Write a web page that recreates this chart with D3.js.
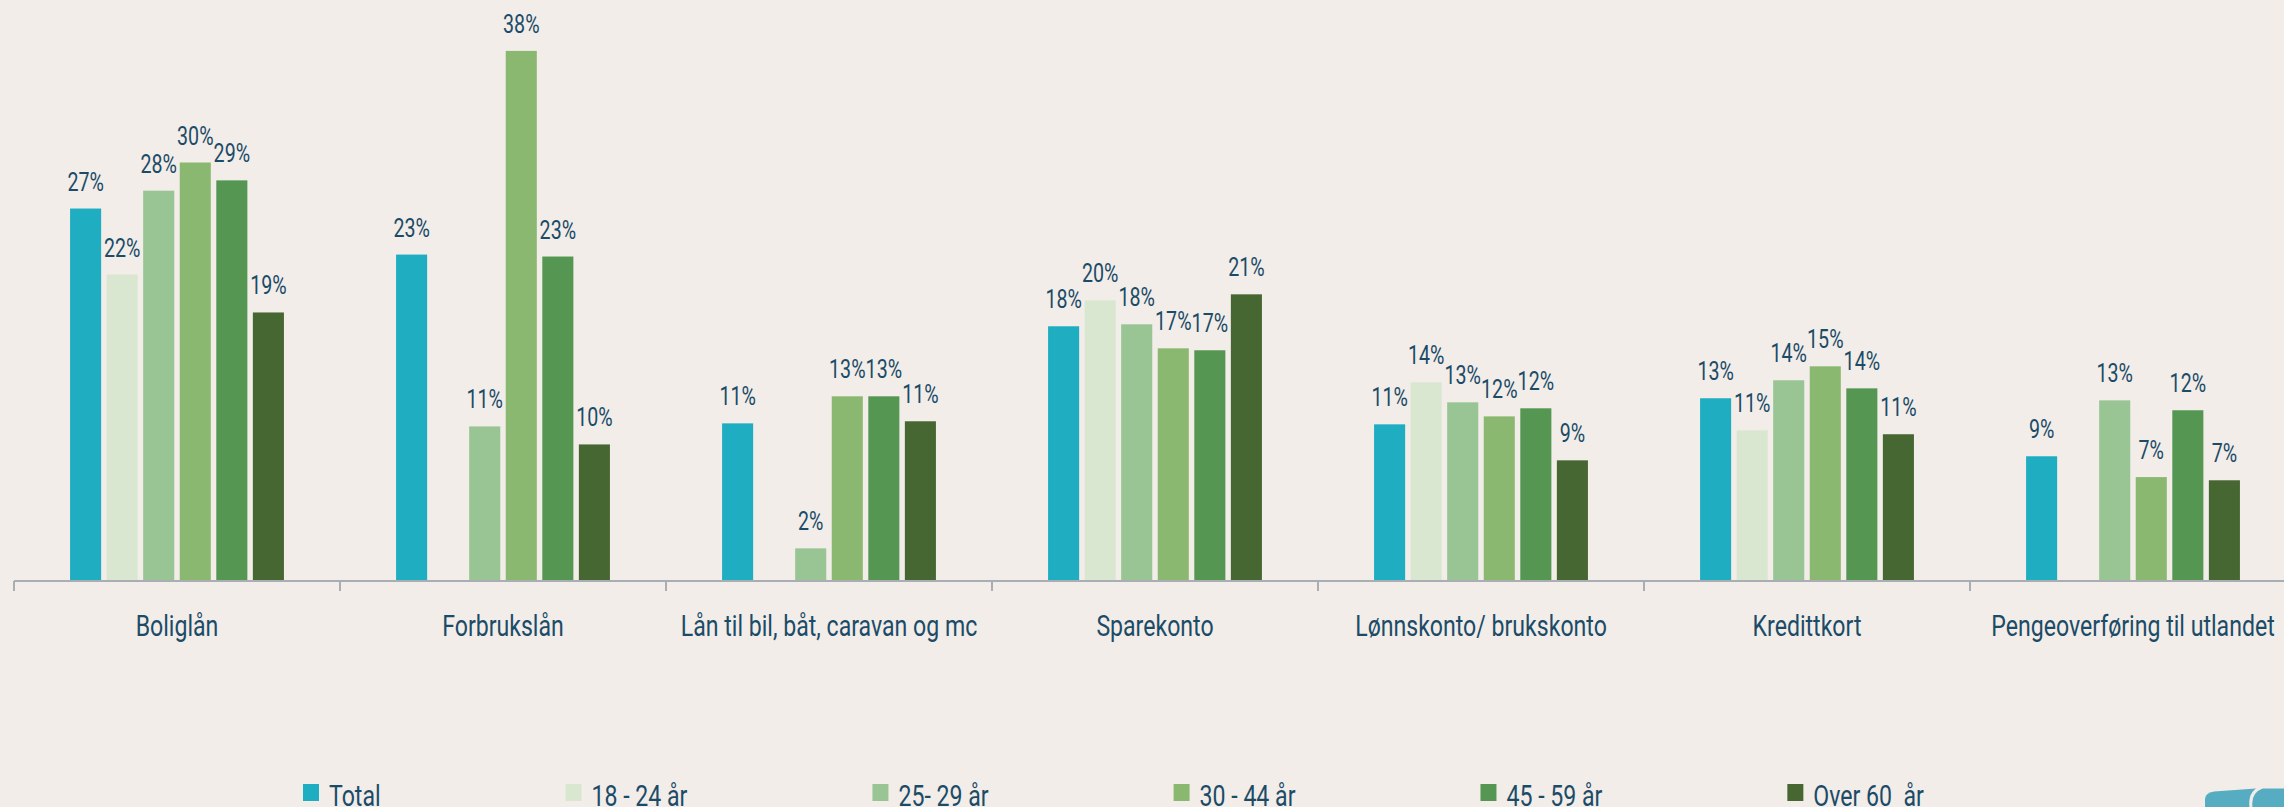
<!DOCTYPE html>
<html>
<head>
<meta charset="utf-8">
<script src="https://cdn.jsdelivr.net/npm/d3@7"></script>
<style>
  html, body { margin: 0; padding: 0; background: #f2ede9; overflow: hidden; }
  svg { display: block; }
  text { font-family: Roboto, "Noto Sans", sans-serif; font-weight: 400; fill: #1b4b67; white-space: pre; }
</style>
</head>
<body>
<svg id="chart" width="2284" height="807"></svg>
<script>
const categories = ["Boliglån", "Forbrukslån", "Lån til bil, båt, caravan og mc", "Sparekonto", "Lønnskonto/ brukskonto", "Kredittkort", "Pengeoverføring til utlandet"];
const seriesNames = ["Total", "18 - 24 år", "25- 29 år", "30 - 44 år", "45 - 59 år", "Over 60  år"];

const total    = [26.7, 23.4, 11.3, 18.26, 11.23, 13.1, 8.94];
const age18_24 = [21.97, null, null, 20.12, 14.24, 10.8, null];
const age25_29 = [27.98, 11.08, 2.34, 18.4, 12.81, 14.39, 12.95];
const age30_44 = [30.0, 38.0, 13.24, 16.68, 11.8, 15.39, 7.45];
const age45_59 = [28.72, 23.26, 13.24, 16.54, 12.38, 13.81, 12.24];
const over60   = [19.25, 9.79, 11.45, 20.55, 8.65, 10.52, 7.22];

const seriesValues = [total, age18_24, age25_29, age30_44, age45_59, over60];
const colors = ["#1eadc1", "#d9e7d0", "#98c593", "#8bb870", "#559752", "#466632"];

const W = 2284, H = 807;
const svg = d3.select("#chart");
svg.append("rect").attr("width", W).attr("height", H).attr("fill", "#f2ede9");

const left = 14, step = 326;
const baseY = 581;
const x0 = d3.scaleBand().domain(categories).range([left, left + step * categories.length])
  .paddingInner(0.344).paddingOuter(0.172);
const x1 = d3.scaleBand().domain(seriesNames).range([0, x0.bandwidth()]).paddingInner(0.15);
const y = d3.scaleLinear().domain([0, 40]).range([baseY, baseY - 40 * 13.95]);
const color = d3.scaleOrdinal().domain(seriesNames).range(colors);

const SX = 0.77;

// bars
const data = [];
categories.forEach((c, ci) => {
  seriesNames.forEach((s, si) => {
    const v = seriesValues[si][ci];
    if (v != null) data.push({ c, s, v });
  });
});

const g = svg.append("g");
g.selectAll("rect.bar").data(data).join("rect")
  .attr("class", "bar")
  .attr("x", d => x0(d.c) + x1(d.s))
  .attr("width", x1.bandwidth())
  .attr("y", d => y(d.v))
  .attr("height", d => y(0) - y(d.v))
  .attr("fill", d => color(d.s));

// value labels
g.selectAll("g.lbl").data(data).join("g")
  .attr("class", "lbl")
  .attr("transform", d => `translate(${x0(d.c) + x1(d.s) + x1.bandwidth() / 2},${y(d.v) - 18})`)
  .append("text")
  .attr("transform", `scale(${SX},1)`)
  .attr("text-anchor", "middle")
  .attr("font-size", 25.5)
  .text(d => Math.round(d.v) + "%");

// axis
const axis = d3.axisBottom(x0).tickSize(0).tickFormat("");
const axG = svg.append("g").attr("transform", `translate(0,${baseY})`).call(axis);
axG.select(".domain").remove();
axG.selectAll(".tick").remove();
axG.append("line").attr("x1", left).attr("x2", W).attr("y1", 0).attr("y2", 0)
  .attr("stroke", "#a9aeb4").attr("stroke-width", 2);
const tickPos = d3.range(categories.length + 1).map(i => left + i * x0.step());
axG.selectAll("line.tk").data(tickPos).join("line").attr("class", "tk")
  .attr("x1", d => d).attr("x2", d => d).attr("y1", 0).attr("y2", 10)
  .attr("stroke", "#a9aeb4").attr("stroke-width", 2);

// category labels
svg.selectAll("g.cat").data(categories).join("g")
  .attr("class", "cat")
  .attr("transform", d => `translate(${x0(d) + x0.bandwidth() / 2},636)`)
  .append("text")
  .attr("transform", `scale(${SX},1)`)
  .attr("text-anchor", "middle")
  .attr("font-size", 30)
  .text(d => d);

// legend
const leg = svg.append("g");
let lx = 303;
seriesNames.forEach(s => {
  const it = leg.append("g").attr("transform", `translate(${lx},0)`);
  it.append("rect").attr("x", 0).attr("y", 784).attr("width", 16).attr("height", 17).attr("fill", color(s));
  const t = it.append("text").attr("transform", `translate(26,806) scale(${SX},1)`)
    .attr("font-size", 30).text(s);
  const w = t.node().getComputedTextLength() * SX;
  lx += 26 + w + 185;
});

// logo fragment (bottom right)
const logo = svg.append("g");
logo.append("path")
  .attr("d", "M2205,807 L2205,799 Q2205,793 2214,791.5 L2256,788.5 L2284,788.5 L2284,807 Z")
  .attr("fill", "#56adc2");
logo.append("path")
  .attr("d", "M2251,807 Q2249,792 2262,787")
  .attr("fill", "none").attr("stroke", "#f2ede9").attr("stroke-width", 3);
</script>
</body>
</html>
